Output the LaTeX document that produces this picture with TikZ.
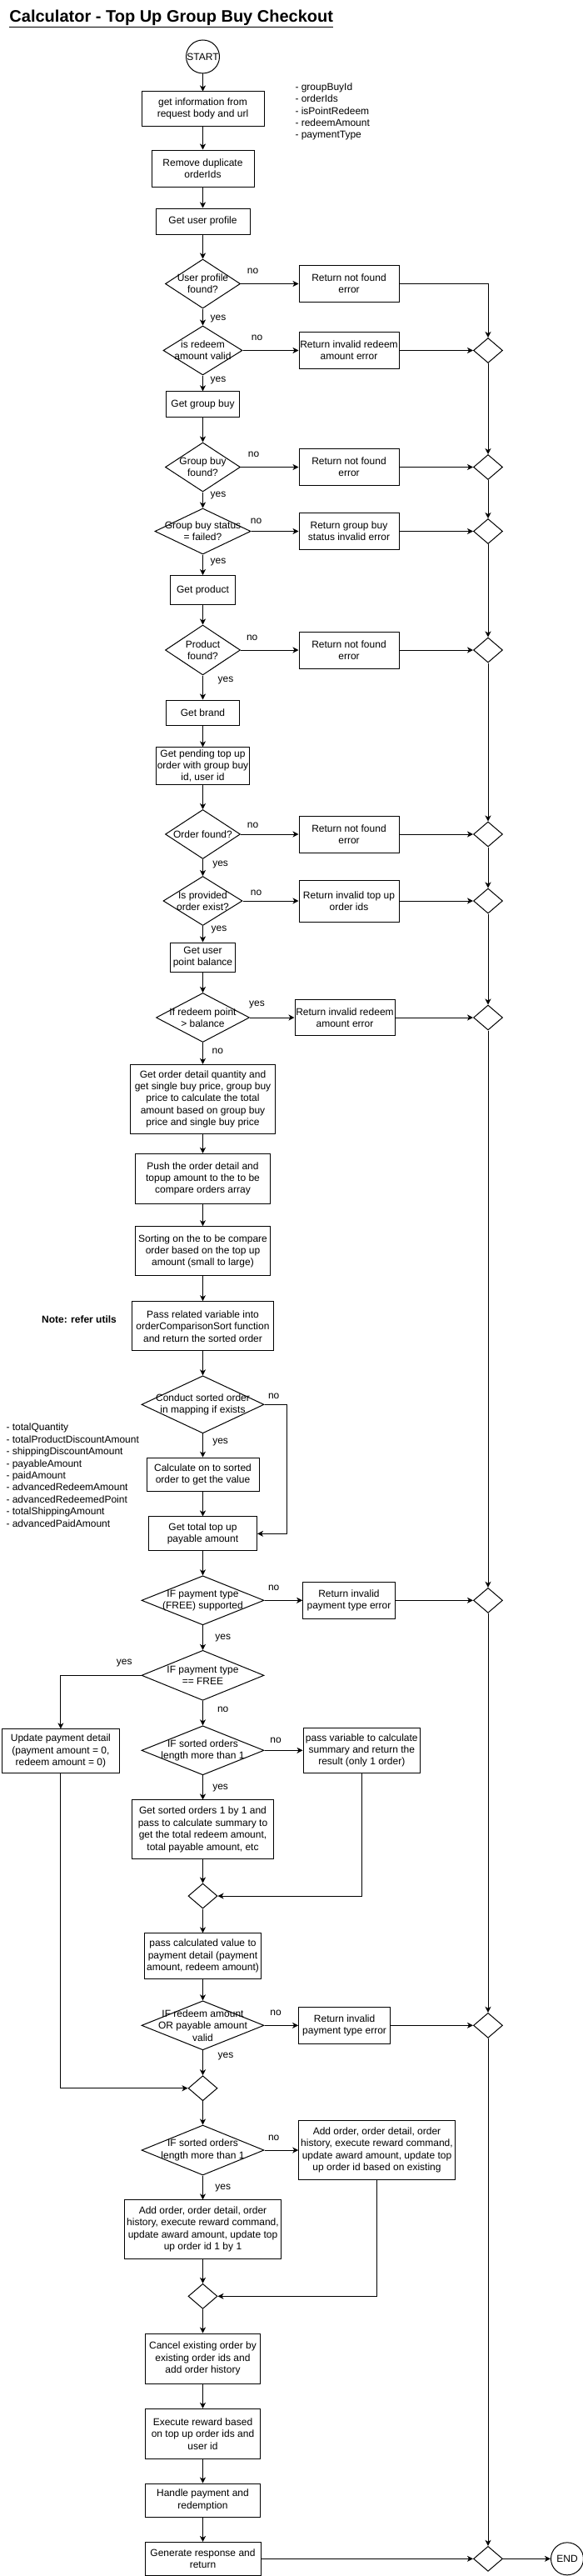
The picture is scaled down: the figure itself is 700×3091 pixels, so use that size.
\documentclass[tikz,border=0pt]{standalone}
\usepackage{fontspec}
\setmainfont{Liberation Sans}
\usetikzlibrary{shapes.geometric, arrows.meta}

\begin{document}
\begin{tikzpicture}[x=1pt, y=-1pt, line width=1pt,
  font=\fontsize{12}{14.4}\selectfont,
  box/.style 2 args={draw, rectangle, minimum width=#1, minimum height=#2, align=center, inner sep=1pt},
  decision/.style 2 args={draw, diamond, minimum width=#1, minimum height=#2, inner sep=0pt},
  dtext/.style={align=center, inner sep=0pt},
  merge/.style={draw, diamond, minimum width=35pt, minimum height=30pt, inner sep=0pt},
  terminal/.style={draw, circle, minimum size=#1, inner sep=0pt},
  lbl/.style={inner sep=1pt},
  notes/.style={align=left, anchor=west, inner sep=0pt},
  arr/.style={-{Stealth[length=7pt, width=7pt, inset=2pt]}}]

  \path[use as bounding box, fill=white] (0,0) rectangle (700,3091);

  % Title
  \node[anchor=west, inner sep=0pt, font=\fontsize{20}{24}\selectfont\bfseries] (title) at (11,22) {\underline{Calculator - Top Up Group Buy Checkout}};

  % Request and validation
  \node[terminal=40pt, label={[dtext]center:START}] (start) at (243.5,68) {};
  \node[box={147pt}{41pt}] (info) at (243.5,130.5) {get information from\\request body and url};
  \node[notes] (params) at (354,134) {- groupBuyId\\- orderIds\\- isPointRedeem\\- redeemAmount\\- paymentType};
  \node[box={123pt}{44pt}] (dedup) at (243.5,202) {Remove duplicate\\orderIds};
  \node[box={113pt}{31pt}] (profile) at (243.5,265.5) {Get user profile};

  \node[decision={90pt}{59pt}, label={[dtext]center:{User profile\\found?}}] (dprofile) at (243.5,340.5) {};
  \node[box={120pt}{44pt}] (eprofile) at (419,340.5) {Return not found\\error};
  \node[decision={95pt}{59pt}, label={[dtext]center:{is redeem\\amount valid}}] (dredeem) at (243.5,420.5) {};
  \node[box={120pt}{44pt}] (eredeem) at (419,420.5) {Return invalid redeem\\amount error};
  \node[merge] (m1) at (586,420.5) {};

  \node[box={88pt}{31pt}] (groupbuy) at (243.5,485.3) {Get group buy};
  \node[decision={90pt}{59pt}, label={[dtext]center:{Group buy\\found?}}] (dgroupbuy) at (243.5,560.5) {};
  \node[box={120pt}{44pt}] (egroupbuy) at (419,560.5) {Return not found\\error};
  \node[merge] (m2) at (586,560.5) {};
  \node[decision={115pt}{55pt}, label={[dtext]center:{Group buy status\\= failed?}}] (dstatus) at (243.5,637.5) {};
  \node[box={120pt}{44pt}] (estatus) at (419,637.5) {Return group buy\\status invalid error};
  \node[merge] (m3) at (586,637.5) {};

  \node[box={78pt}{35pt}] (product) at (243.5,708) {Get product};
  \node[decision={90pt}{60pt}, label={[dtext]center:{Product\\found?}}] (dproduct) at (243.5,780) {};
  \node[box={120pt}{44pt}] (eproduct) at (419,780) {Return not found\\error};
  \node[merge] (m4) at (586,780) {};

  \node[box={88pt}{30pt}] (brand) at (243.5,855) {Get brand};
  \node[box={112.5pt}{44.3pt}] (pending) at (243.5,919) {Get pending top up\\order with group buy\\id, user id};
  \node[decision={90pt}{59pt}, label={[dtext]center:{Order found?}}] (dorder) at (243.5,1001) {};
  \node[box={120pt}{44pt}] (eorder) at (419,1001) {Return not found\\error};
  \node[merge] (m5) at (586,1001) {};
  \node[decision={95pt}{59pt}, label={[dtext]center:{Is provided\\order exist?}}] (dexist) at (243.5,1081) {};
  \node[box={120pt}{50pt}] (eexist) at (419,1081) {Return invalid top up\\order ids};
  \node[merge] (m6) at (586,1081) {};

  \node[box={78pt}{35pt}] (balance) at (243.5,1148.5) {Get user\\point balance};
  \node[decision={112pt}{59pt}, label={[dtext]center:{If redeem point\\> balance}}] (dpoint) at (243.5,1221) {};
  \node[box={120pt}{43.7pt}] (epoint) at (414,1221) {Return invalid redeem\\amount error};
  \node[merge] (m7) at (586,1221) {};

  % Amount calculation
  \node[box={174.5pt}{83pt}] (detail) at (243.5,1318.8) {Get order detail quantity and\\get single buy price, group buy\\price to calculate the total\\amount based on group buy\\price and single buy price};
  \node[box={162pt}{60pt}] (push) at (243.5,1414.3) {Push the order detail and\\topup amount to the to be\\compare orders array};
  \node[box={162pt}{59.3pt}] (sorting) at (243.5,1501.3) {Sorting on the to be compare\\order based on the top up\\amount (small to large)};
  \node[box={170pt}{59.3pt}] (passsort) at (243.5,1591.3) {Pass related variable into\\orderComparisonSort function\\and return the sorted order};
  \node[inner sep=0pt, font=\fontsize{12}{14.4}\selectfont\bfseries] (note) at (95,1583.3) {Note: refer utils};
  \node[decision={147pt}{69pt}, label={[dtext]center:{Conduct sorted order\\in mapping if exists}}] (dmapping) at (243.5,1685.3) {};
  \coordinate (skip) at (344.4,1685.3);
  \node[box={135pt}{40.7pt}] (calc) at (243.5,1769.5) {Calculate on to sorted\\order to get the value};
  \node[notes] (fields) at (7,1770.2) {- totalQuantity\\- totalProductDiscountAmount\\- shippingDiscountAmount\\- payableAmount\\- paidAmount\\- advancedRedeemAmount\\- advancedRedeemedPoint\\- totalShippingAmount\\- advancedPaidAmount};
  \node[box={130pt}{40.7pt}] (total) at (243.5,1840.3) {Get total top up\\payable amount};

  % Payment type
  \node[decision={147pt}{59pt}, label={[dtext]center:{IF payment type\\(FREE) supported}}] (dsupported) at (243.5,1920.3) {};
  \node[box={110.7pt}{44pt}] (etype) at (419,1920.3) {Return invalid\\payment type error};
  \node[merge] (m8) at (586,1920.3) {};
  \node[decision={147pt}{60pt}, label={[dtext]center:{IF payment type\\== FREE}}] (dfree) at (243.5,2010.3) {};
  \node[box={141pt}{52.3pt}] (update) at (72.9,2101) {Update payment detail\\(payment amount = 0,\\redeem amount = 0)};
  \node[decision={147pt}{59pt}, label={[dtext]center:{IF sorted orders\\length more than 1}}] (dlength) at (243.5,2100.3) {};
  \node[box={140.5pt}{54pt}] (single) at (434.3,2100.3) {pass variable to calculate\\summary and return the\\result (only 1 order)};
  \node[box={170pt}{70.7pt}] (onebyone) at (243.5,2195.3) {Get sorted orders 1 by 1 and\\pass to calculate summary to\\get the total redeem amount,\\total payable amount, etc};
  \node[merge] (j1) at (243.5,2275) {};
  \node[box={140.5pt}{54.3pt}] (payment) at (243.5,2347) {pass calculated value to\\payment detail (payment\\amount, redeem amount)};
  \node[decision={147pt}{59pt}, label={[dtext]center:{IF redeem amount\\OR payable amount\\valid}}] (dvalid) at (243.5,2430.3) {};
  \node[box={110pt}{44pt}] (evalid) at (413.6,2430.3) {Return invalid\\payment type error};
  \node[merge] (m9) at (586,2430.3) {};
  \node[merge] (j2) at (243.5,2505.7) {};

  % Orders and response
  \node[decision={147pt}{60pt}, label={[dtext]center:{IF sorted orders\\length more than 1}}] (dcount) at (243.5,2580) {};
  \node[box={187.5pt}{70.7pt}] (addexist) at (452.5,2580) {Add order, order detail, order\\history, execute reward command,\\update award amount, update top\\up order id based on existing};
  \node[box={187.5pt}{70.3pt}] (addeach) at (243.5,2675) {Add order, order detail, order\\history, execute reward command,\\update award amount, update top\\up order id 1 by 1};
  \node[merge] (j3) at (243.5,2755.3) {};
  \node[box={138.6pt}{60pt}] (cancel) at (243.5,2830) {Cancel existing order by\\existing order ids and\\add order history};
  \node[box={138.6pt}{60pt}] (reward) at (243.5,2920.3) {Execute reward based\\on top up order ids and\\user id};
  \node[box={138pt}{40pt}] (handle) at (243.5,3000) {Handle payment and\\redemption};
  \node[box={139pt}{39.7pt}] (respond) at (243.5,3070.3) {Generate response and\\return};
  \node[merge] (m10) at (586,3070.3) {};
  \node[terminal=39pt, label={[dtext]center:END}] (finish) at (681,3070.3) {};

  % Main flow
  \draw[arr] (start) -- (info);
  \draw[arr] (info) -- (dedup);
  \draw[arr] (dedup) -- (profile);
  \draw[arr] (profile) -- (dprofile);
  \draw[arr] (dprofile) -- (dredeem);
  \draw[arr] (dredeem) -- (groupbuy);
  \draw[arr] (groupbuy) -- (dgroupbuy);
  \draw[arr] (dgroupbuy) -- (dstatus);
  \draw[arr] (dstatus) -- (product);
  \draw[arr] (product) -- (dproduct);
  \draw[arr] (dproduct) -- (brand);
  \draw[arr] (brand) -- (pending);
  \draw[arr] (pending) -- (dorder);
  \draw[arr] (dorder) -- (dexist);
  \draw[arr] (dexist) -- (balance);
  \draw[arr] (balance) -- (dpoint);
  \draw[arr] (dpoint) -- (detail);
  \draw[arr] (detail) -- (push);
  \draw[arr] (push) -- (sorting);
  \draw[arr] (sorting) -- (passsort);
  \draw[arr] (passsort) -- (dmapping);
  \draw[arr] (dmapping) -- (calc);
  \draw[arr] (calc) -- (total);
  \draw[arr] (total) -- (dsupported);
  \draw[arr] (dsupported) -- (dfree);
  \draw[arr] (dfree) -- (dlength);
  \draw[arr] (dlength) -- (onebyone);
  \draw[arr] (onebyone) -- (j1);
  \draw[arr] (j1) -- (payment);
  \draw[arr] (payment) -- (dvalid);
  \draw[arr] (dvalid) -- (j2);
  \draw[arr] (j2) -- (dcount);
  \draw[arr] (dcount) -- (addeach);
  \draw[arr] (addeach) -- (j3);
  \draw[arr] (j3) -- (cancel);
  \draw[arr] (cancel) -- (reward);
  \draw[arr] (reward) -- (handle);
  \draw[arr] (handle) -- (respond);

  % Side branches
  \draw[arr] (dprofile) -- (eprofile);
  \draw[arr] (dredeem) -- (eredeem);
  \draw[arr] (dgroupbuy) -- (egroupbuy);
  \draw[arr] (dstatus) -- (estatus);
  \draw[arr] (dproduct) -- (eproduct);
  \draw[arr] (dorder) -- (eorder);
  \draw[arr] (dexist) -- (eexist);
  \draw[arr] (dpoint) -- (epoint);
  \draw[arr] (dsupported) -- (etype);
  \draw[arr] (dlength) -- (single);
  \draw[arr] (dvalid) -- (evalid);
  \draw[arr] (dcount) -- (addexist);
  \draw[arr] (dmapping.east) -- (skip) |- (total.east);
  \draw[arr] (dfree.west) -| (update.north);
  \draw[arr] (update.south) |- (j2.west);
  \draw[arr] (single.south) |- (j1.east);
  \draw[arr] (addexist.south) |- (j3.east);

  % Error exits
  \draw[arr] (eprofile.east) -| (m1.north);
  \draw[arr] (eredeem) -- (m1);
  \draw[arr] (egroupbuy) -- (m2);
  \draw[arr] (estatus) -- (m3);
  \draw[arr] (eproduct) -- (m4);
  \draw[arr] (eorder) -- (m5);
  \draw[arr] (eexist) -- (m6);
  \draw[arr] (epoint) -- (m7);
  \draw[arr] (etype) -- (m8);
  \draw[arr] (evalid) -- (m9);
  \draw[arr] (m1) -- (m2);
  \draw[arr] (m2) -- (m3);
  \draw[arr] (m3) -- (m4);
  \draw[arr] (m4) -- (m5);
  \draw[arr] (m5) -- (m6);
  \draw[arr] (m6) -- (m7);
  \draw[arr] (m7) -- (m8);
  \draw[arr] (m8) -- (m9);
  \draw[arr] (m9) -- (m10);
  \draw[arr] (respond) -- (m10);
  \draw[arr] (m10) -- (finish);

  % Branch labels
  \node[lbl] (no1) at (303.6,325) {no};
  \node[lbl] (yes1) at (262,382.7) {yes};
  \node[lbl] (no2) at (308.5,405) {no};
  \node[lbl] (yes2) at (262,457) {yes};
  \node[lbl] (no3) at (304.5,545) {no};
  \node[lbl] (yes3) at (262,595) {yes};
  \node[lbl] (no4) at (307.6,625) {no};
  \node[lbl] (yes4) at (262,675) {yes};
  \node[lbl] (no5) at (302.7,765) {no};
  \node[lbl] (yes5) at (271,816.7) {yes};
  \node[lbl] (no6) at (303.6,990) {no};
  \node[lbl] (yes6) at (264.6,1037.3) {yes};
  \node[lbl] (no7) at (307.6,1071) {no};
  \node[lbl] (yes7) at (263,1116) {yes};
  \node[lbl] (yes8) at (308.5,1205.7) {yes};
  \node[lbl] (no8) at (261.4,1261.7) {no};
  \node[lbl] (no9) at (328.7,1675) {no};
  \node[lbl] (yes9) at (264.6,1730) {yes};
  \node[lbl] (no10) at (328.7,1905) {no};
  \node[lbl] (yes10) at (267.7,1965) {yes};
  \node[lbl] (yes11) at (149.3,1995) {yes};
  \node[lbl] (no11) at (267.7,2051) {no};
  \node[lbl] (no12) at (331,2088.3) {no};
  \node[lbl] (yes12) at (264.6,2145) {yes};
  \node[lbl] (no13) at (331,2415) {no};
  \node[lbl] (yes13) at (271,2467.3) {yes};
  \node[lbl] (no14) at (328.7,2565) {no};
  \node[lbl] (yes14) at (267.7,2625) {yes};
\end{tikzpicture}
\end{document}
